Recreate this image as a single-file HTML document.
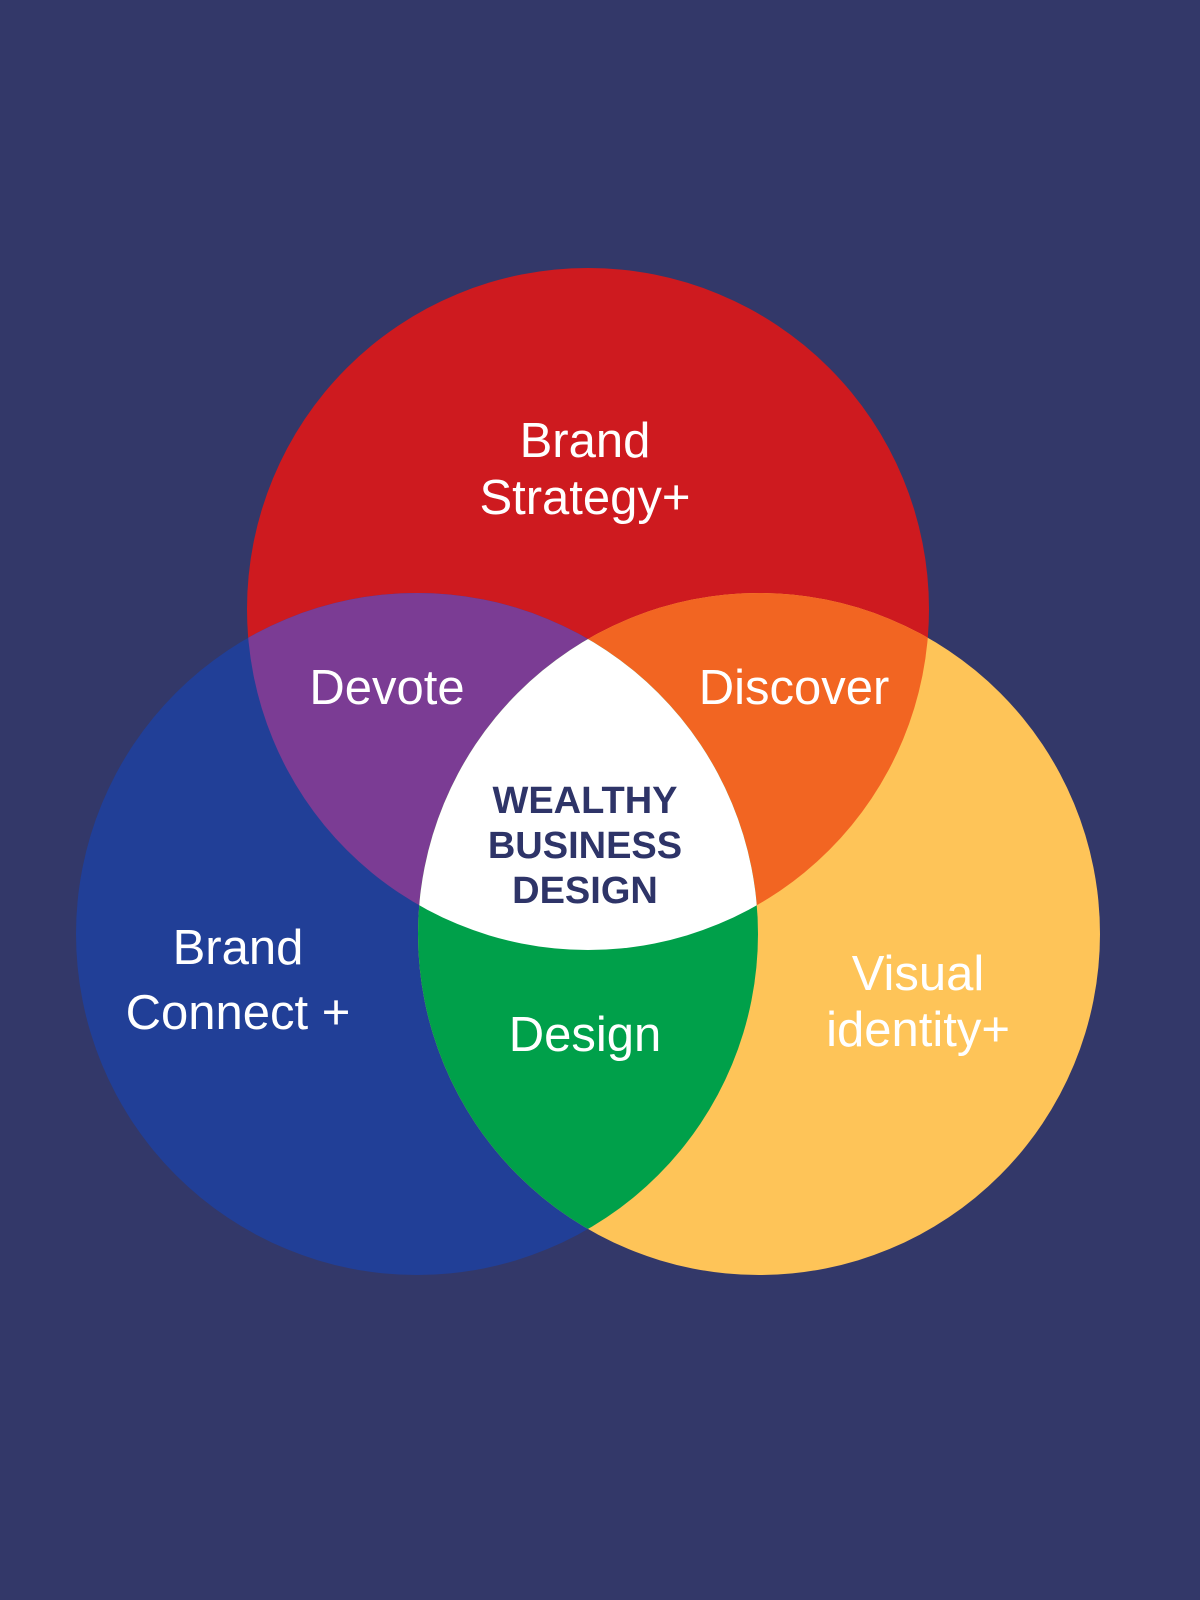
<!DOCTYPE html>
<html><head><meta charset="utf-8"><style>
html,body{margin:0;padding:0;background:#333869;}
svg{display:block}
text{font-family:"Liberation Sans",sans-serif;fill:#fff;text-anchor:middle}
</style></head><body>
<svg width="1200" height="1600" viewBox="0 0 1200 1600" xmlns="http://www.w3.org/2000/svg">
<defs>
<clipPath id="cR"><circle cx="588" cy="609" r="341"/></clipPath>
<clipPath id="cB"><circle cx="417" cy="934" r="341"/></clipPath>
<clipPath id="cY"><circle cx="759" cy="934" r="341"/></clipPath>
</defs>
<rect width="1200" height="1600" fill="#333869"/>
<circle cx="588" cy="609" r="341" fill="#CE1A1F"/>
<circle cx="417" cy="934" r="341" fill="#213F97"/>
<circle cx="759" cy="934" r="341" fill="#FEC458"/>
<circle cx="417" cy="934" r="341" fill="#7B3C94" clip-path="url(#cR)"/>
<circle cx="759" cy="934" r="341" fill="#F26522" clip-path="url(#cR)"/>
<circle cx="759" cy="934" r="341" fill="#00A04A" clip-path="url(#cB)"/>
<g clip-path="url(#cR)"><g clip-path="url(#cB)"><circle cx="759" cy="934" r="341" fill="#ffffff"/></g></g>
<g font-size="49">
<text x="585" y="457">Brand</text>
<text x="585" y="514">Strategy+</text>
<text x="387" y="704">Devote</text>
<text x="794" y="704">Discover</text>
<text x="238" y="964">Brand</text>
<text x="238" y="1029">Connect +</text>
<text x="585" y="1051">Design</text>
<text x="918" y="990">Visual</text>
<text x="918" y="1046">identity+</text>
</g>
<g font-size="38" font-weight="bold" style="fill:#2E3468">
<text x="585" y="813" style="fill:#2E3468">WEALTHY</text>
<text x="585" y="858" style="fill:#2E3468">BUSINESS</text>
<text x="585" y="903" style="fill:#2E3468">DESIGN</text>
</g>
</svg>
</body></html>
